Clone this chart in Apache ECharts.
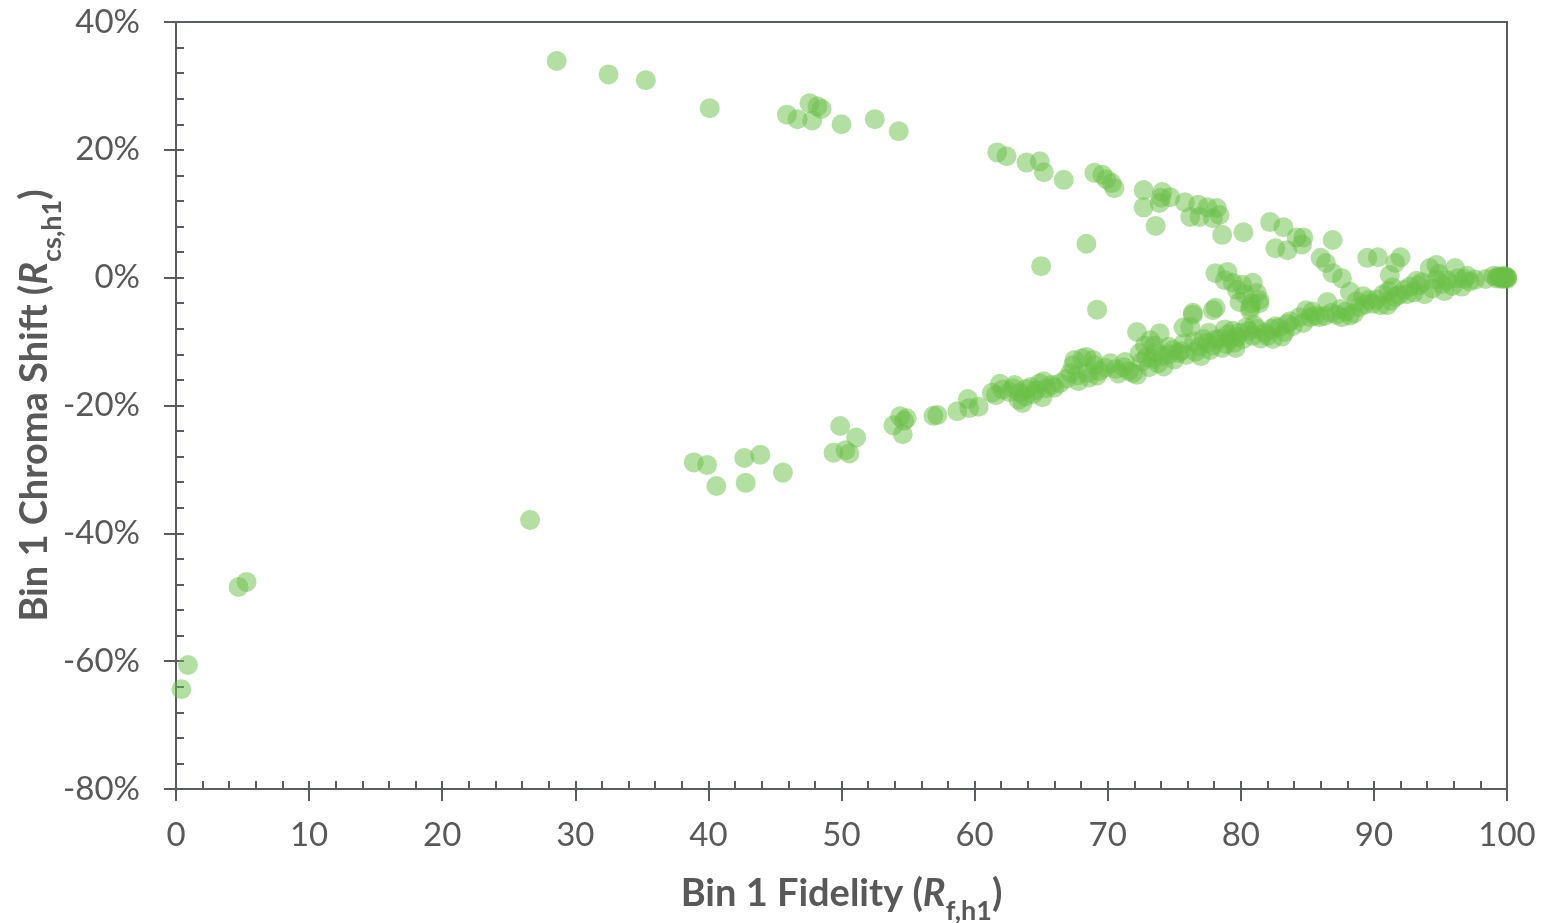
<!DOCTYPE html>
<html>
<head>
<meta charset="utf-8">
<title>Bin 1 Fidelity vs Chroma Shift</title>
<script src="https://cdn.jsdelivr.net/npm/echarts@6/dist/echarts.min.js"></script>
<style>
  html, body { margin: 0; padding: 0; background: #ffffff; }
  #chart { width: 1542px; height: 923px; }
</style>
</head>
<body>
<div id="chart"></div>
<script>
// Each point: [Bin 1 fidelity R_f,h1, Bin 1 chroma shift R_cs,h1 in %]

// Isolated low-fidelity samples
const farPoints = [
  [0.4, -64.4], [0.9, -60.6], [4.7, -48.4], [5.3, -47.6], [26.6, -37.9]
];

// Samples with positive chroma shift (upper branch)
const upperBranch = [
  [28.6, 33.9], [32.5, 31.8], [35.3, 30.9], [40.1, 26.5],
  [45.9, 25.5], [46.7, 24.8], [47.6, 27.3], [47.8, 24.6], [48.2, 26.8], [48.5, 26.4],
  [50.0, 24.0], [52.5, 24.8], [54.3, 22.9],
  [61.7, 19.6], [62.4, 19.0], [63.9, 18.0], [64.9, 18.2], [65.2, 16.5], [66.7, 15.3],
  [69.0, 16.4], [69.6, 16.1], [69.9, 15.4], [70.3, 14.8], [70.5, 14.0],
  [72.7, 13.7], [74.1, 13.4], [72.7, 11.0], [73.9, 11.7], [74.0, 12.5], [74.7, 12.6],
  [73.6, 8.1], [75.8, 11.8], [76.2, 9.5], [76.8, 11.4], [76.9, 9.5], [77.5, 11.0],
  [77.9, 9.3], [78.2, 10.9], [78.4, 9.8], [78.6, 6.7], [80.2, 7.1],
  [82.2, 8.7], [83.2, 7.9], [82.6, 4.6], [83.5, 4.3], [84.2, 6.3], [84.7, 6.3], [84.6, 5.2],
  [86.0, 3.1], [86.9, 5.9], [86.4, 2.3], [86.9, 0.7], [87.6, -0.1], [88.2, -2.2],
  [89.5, 3.1], [90.3, 3.2], [92.0, 3.2], [91.6, 2.3], [91.2, 0.4], [91.4, -1.5],
  [68.4, 5.3], [65.0, 1.8]
];

// Middle branch between the two main arms
const middleBranch = [
  [78.1, 0.7], [79.0, 0.9], [78.8, -0.4], [79.4, -0.8], [80.1, -1.1], [80.9, -0.8],
  [79.7, -1.9], [80.3, -2.6], [81.2, -2.4], [81.4, -3.5], [80.8, -4.0], [79.9, -3.8],
  [80.7, -5.1], [78.1, -4.7], [76.4, -5.5], [69.2, -5.0]
];

// Samples with negative chroma shift between 38 and 59
const lowerCluster = [
  [38.9, -28.9], [39.9, -29.3], [40.6, -32.6], [42.7, -28.2], [43.9, -27.7], [42.8, -32.1],
  [45.6, -30.5], [49.9, -23.2], [49.4, -27.4], [50.3, -27.0], [50.6, -27.5], [51.1, -25.0],
  [53.9, -23.1], [54.4, -21.7], [54.7, -22.4], [54.9, -22.0], [54.6, -24.5],
  [56.9, -21.6], [57.2, -21.5], [58.7, -20.9]
];

// Dense lower branch converging to (100, 0%)
const lowerBranch = [
  [59.5, -19.0], [60.3, -20.2], [59.6, -20.4], [61.3, -18.0], [61.9, -16.6], [62.1, -17.5], [61.6, -18.4],
  [62.9, -17.3], [63.3, -19.1], [63.4, -18.0], [63.6, -19.6], [62.6, -17.9], [63.9, -17.4], [63.0, -16.8], [63.8, -18.6],
  [64.2, -17.1], [64.9, -16.5], [65.1, -18.7], [65.8, -16.8], [64.6, -17.6], [65.4, -17.3], [64.4, -18.2], [66.0, -17.2], [65.2, -16.2],
  [66.4, -16.5], [67.4, -13.7], [67.7, -15.3], [67.2, -14.9], [67.8, -16.2], [66.9, -15.8], [67.5, -12.9],
  [68.1, -12.6], [68.4, -12.4], [68.9, -12.9], [69.2, -15.3], [68.5, -14.9], [68.6, -15.6], [69.4, -14.6], [69.0, -13.7], [69.8, -14.1], [70.2, -13.4],
  [70.6, -14.3], [71.2, -14.0], [71.6, -14.6], [71.3, -13.2], [70.8, -15.0], [71.9, -14.9],
  [72.2, -8.5], [72.4, -11.8], [72.2, -15.2], [72.6, -13.1], [72.9, -12.5], [73.2, -9.8], [73.1, -14.0], [73.4, -12.7],
  [73.9, -8.7], [73.6, -11.6], [73.8, -13.4], [73.5, -10.6], [72.8, -10.6],
  [74.1, -12.3], [74.2, -13.9], [74.6, -12.0], [74.9, -11.3], [75.0, -12.8], [75.3, -11.8], [75.7, -10.3], [75.7, -7.8],
  [75.5, -11.5], [74.6, -10.8], [75.9, -12.1],
  [76.4, -5.8], [76.2, -7.7], [76.5, -10.0], [76.9, -10.8], [76.6, -11.6], [77.2, -9.6], [77.0, -12.3], [77.5, -10.2],
  [77.9, -5.1], [77.9, -10.6], [77.6, -8.6], [77.7, -11.3], [78.1, -9.7],
  [78.4, -9.6], [78.6, -11.0], [78.9, -10.4], [79.2, -9.6], [79.0, -8.9], [79.5, -10.2], [79.7, -9.3], [79.4, -8.3],
  [79.9, -8.6], [79.6, -11.0], [78.8, -8.1],
  [80.2, -9.6], [80.6, -8.3], [80.7, -4.6], [81.4, -4.0], [80.9, -9.1], [81.2, -8.0], [81.5, -9.5], [81.8, -8.6],
  [80.4, -7.8], [81.0, -7.4], [82.0, -9.1],
  [82.3, -8.0], [82.6, -7.6], [82.9, -7.8], [83.3, -8.5], [83.5, -7.2], [83.9, -7.6], [83.1, -9.2], [82.4, -9.6], [83.7, -6.8],
  [84.4, -6.2], [84.9, -5.1], [85.2, -6.2], [85.6, -5.9], [84.7, -7.1], [85.9, -6.2], [85.4, -5.3],
  [86.3, -6.0], [86.8, -5.5], [87.2, -5.8], [87.6, -6.2], [87.5, -4.9], [86.5, -3.8], [87.9, -5.3],
  [88.2, -5.9], [88.5, -5.6], [88.9, -4.6], [89.3, -4.2], [89.6, -3.5], [88.7, -3.7], [89.2, -2.9], [89.9, -4.1],
  [90.2, -3.4], [90.7, -2.6], [91.0, -4.3], [91.3, -3.6], [91.6, -3.0], [90.5, -4.3], [91.9, -2.7], [91.1, -2.1],
  [92.3, -1.9], [92.7, -1.4], [93.0, -2.3], [93.4, -1.2], [93.6, -0.7], [92.5, -2.6], [93.8, -2.6], [93.2, -0.5],
  [94.2, 1.5], [94.7, 2.0], [94.7, -0.3], [94.4, -1.7], [95.1, -1.0], [95.5, -0.4], [95.9, -1.3], [94.9, 0.6], [95.3, -2.1],
  [96.1, 1.5], [96.3, -0.1], [96.8, -0.2], [96.6, -1.4], [97.2, -0.6], [97.6, -0.3], [97.0, 0.3],
  [98.4, -0.2], [99.0, 0.3], [99.3, 0.1], [99.5, 0.0], [99.7, 0.2], [99.8, -0.1], [99.9, 0.0],
  [100, 0.0], [100, 0.1], [99.6, -0.2], [99.2, -0.1], [99.8, 0.3], [100, -0.2], [99.4, 0.2]
];

// Axis ranges and tick spacing
const xRange = { min: 0, max: 100, major: 10, minor: 2 };
const yRange = { min: -80, max: 40, major: 20, minor: 4 };

const axisColor = '#595d62';
const textColor = '#595959';
const fontFamily = 'Lato, "Open Sans", sans-serif';

const titleRich = {
  b: { fontSize: 38, fontWeight: 'bold', color: textColor, fontFamily, lineHeight: 46, verticalAlign: 'top' },
  i: { fontSize: 38, fontWeight: 'bold', fontStyle: 'italic', color: textColor, fontFamily, lineHeight: 46, verticalAlign: 'top' },
  s: { fontSize: 27, fontWeight: 'bold', color: textColor, fontFamily, lineHeight: 27, verticalAlign: 'top', padding: [23, 0, 0, 0] }
};

const chart = echarts.init(document.getElementById('chart'), null, { renderer: 'canvas' });

chart.setOption({
  animation: false,
  backgroundColor: '#ffffff',
  grid: {
    left: 176, right: 35, top: 22, bottom: 134,
    containLabel: false, outerBoundsMode: 'none',
    show: true, borderColor: axisColor, borderWidth: 2, backgroundColor: 'transparent'
  },
  xAxis: [
    {
      type: 'value', min: xRange.min, max: xRange.max, interval: xRange.major,
      position: 'bottom',
      name: '{b|Bin 1 Fidelity (}{i|R}{s|f,h1}{b|)}',
      nameLocation: 'middle', nameGap: 86,
      nameTextStyle: { rich: titleRich },
      axisLine: { onZero: false, lineStyle: { color: axisColor, width: 2 } },
      axisTick: { show: true, inside: false, length: 12, lineStyle: { color: axisColor, width: 2 } },
      axisLabel: { fontSize: 33, color: textColor, fontFamily, margin: 30 },
      splitLine: { show: false }
    },
    {
      // inside ticks every 2 units
      type: 'value', min: xRange.min, max: xRange.max, interval: xRange.minor,
      position: 'bottom',
      axisLine: { show: false, onZero: false },
      axisTick: { show: true, inside: true, length: 8, lineStyle: { color: axisColor, width: 2 } },
      axisLabel: { show: false },
      splitLine: { show: false }
    }
  ],
  yAxis: [
    {
      type: 'value', min: yRange.min, max: yRange.max, interval: yRange.major,
      position: 'left',
      name: '{b|Bin 1 Chroma Shift (}{i|R}{s|cs,h1}{b|)}',
      nameLocation: 'middle', nameGap: 114, nameRotate: 90, nameMoveOverlap: false,
      nameTextStyle: { rich: titleRich },
      axisLine: { onZero: false, lineStyle: { color: axisColor, width: 2 } },
      axisTick: { show: true, inside: false, length: 12, lineStyle: { color: axisColor, width: 2 } },
      axisLabel: { fontSize: 33, color: textColor, fontFamily, margin: 36, formatter: '{value}%' },
      splitLine: { show: false }
    },
    {
      // inside ticks every 4 %
      type: 'value', min: yRange.min, max: yRange.max, interval: yRange.minor,
      position: 'left',
      axisLine: { show: false, onZero: false },
      axisTick: { show: true, inside: true, length: 8, lineStyle: { color: axisColor, width: 2 } },
      axisLabel: { show: false },
      splitLine: { show: false }
    }
  ],
  series: [
    {
      type: 'scatter',
      xAxisIndex: 0, yAxisIndex: 0,
      symbol: 'circle', symbolSize: 20,
      itemStyle: { color: '#6abf45', opacity: 0.5 },
      emphasis: { disabled: true },
      data: [].concat(farPoints, upperBranch, middleBranch, lowerCluster, lowerBranch)
    }
  ]
});
</script>
</body>
</html>
